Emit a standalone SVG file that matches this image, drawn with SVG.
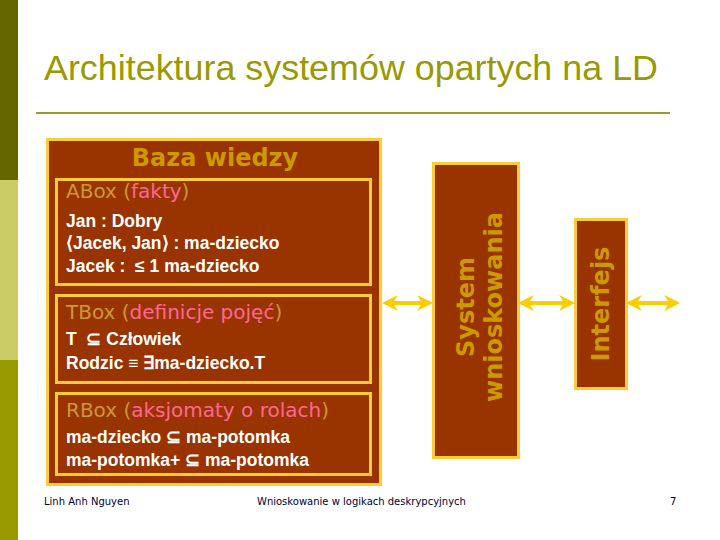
<svg xmlns="http://www.w3.org/2000/svg" width="720" height="540" viewBox="0 0 720 540">
<defs>
<style>
.box{fill:#993300;stroke:#ffcc33;stroke-width:3}
.hd{font-family:"DejaVu Sans",sans-serif;font-size:20px;fill:#cc9933}
.pk{fill:#ff6699}
.ln{font-family:"Liberation Sans",Arial,sans-serif;font-weight:bold;font-size:17.5px;fill:#ffffff}
.vt{font-family:"DejaVu Sans",sans-serif;font-weight:bold;font-size:24px;fill:#cc9900;text-anchor:middle}
.ft{font-family:"DejaVu Sans",sans-serif;font-size:10px;fill:#000033}
.arr{stroke:#ffcc00;stroke-width:4;fill:none;marker-start:url(#ah);marker-end:url(#ah)}
</style>
<marker id="ah" viewBox="0 0 10 10" refX="8" refY="5" markerWidth="4" markerHeight="4" orient="auto-start-reverse" markerUnits="strokeWidth">
<path d="M0,0 L10,5 L0,10 L3,5 Z" fill="#ffcc00"/>
</marker>
</defs>
<rect x="0" y="0" width="720" height="540" fill="#ffffff"/>
<rect x="0" y="0" width="18" height="180" fill="#666600"/>
<rect x="0" y="180" width="18" height="180" fill="#cccc66"/>
<rect x="0" y="360" width="18" height="180" fill="#999900"/>
<text x="44" y="80" font-family="Liberation Sans,Arial,sans-serif" font-size="35" fill="#999900" textLength="614" lengthAdjust="spacingAndGlyphs">Architektura systemów opartych na LD</text>
<line x1="36" y1="113" x2="670" y2="113" stroke="#999933" stroke-width="2"/>
<g id="baza">
<rect class="box" x="47.5" y="139.5" width="333" height="345"/>
<text x="215" y="166" font-family="DejaVu Sans,sans-serif" font-weight="bold" font-size="24" fill="#cc9900" text-anchor="middle">Baza wiedzy</text>
</g>
<g id="abox">
<rect class="box" x="56.5" y="179.5" width="314" height="105"/>
<text class="hd" x="66" y="198">ABox (<tspan class="pk">fakty</tspan>)</text>
<text class="ln" x="66" y="227">Jan : Dobry</text>
<text class="ln" x="66" y="249">⟨Jacek, Jan⟩ : ma-dziecko</text>
<text class="ln" x="66" y="272">Jacek : &#160;≤ 1 ma-dziecko</text>
</g>
<g id="tbox">
<rect class="box" x="56.5" y="295.5" width="314" height="87"/>
<text class="hd" x="66" y="319">TBox (<tspan class="pk">definicje pojęć</tspan>)</text>
<text class="ln" x="66" y="345">T &#160;⊆ Człowiek</text>
<text class="ln" x="66" y="369">Rodzic ≡ ∃ma-dziecko.T</text>
</g>
<g id="rbox">
<rect class="box" x="56.5" y="393.5" width="314" height="81"/>
<text class="hd" x="66" y="417">RBox (<tspan class="pk">aksjomaty o rolach</tspan>)</text>
<text class="ln" x="66" y="443">ma-dziecko ⊆ ma-potomka</text>
<text class="ln" x="66" y="466">ma-potomka+ ⊆ ma-potomka</text>
</g>
<g id="system">
<rect class="box" x="433.5" y="163.5" width="85" height="294"/>
<text class="vt" transform="translate(474,307) rotate(-90)">System</text>
<text class="vt" transform="translate(502,307) rotate(-90)">wnioskowania</text>
</g>
<g id="interfejs">
<rect class="box" x="575.5" y="219.5" width="51" height="169"/>
<text class="vt" transform="translate(609,304) rotate(-90)">Interfejs</text>
</g>
<g id="connectors">
<line class="arr" x1="385" y1="303" x2="430" y2="303"/>
<line class="arr" x1="521" y1="303" x2="572" y2="303"/>
<line class="arr" x1="629" y1="303" x2="677" y2="303"/>
</g>
<g id="footer">
<text class="ft" x="44" y="505">Linh Anh Nguyen</text>
<text class="ft" x="257" y="505">Wnioskowanie w logikach deskrypcyjnych</text>
<text class="ft" x="670" y="505">7</text>
</g>
</svg>
